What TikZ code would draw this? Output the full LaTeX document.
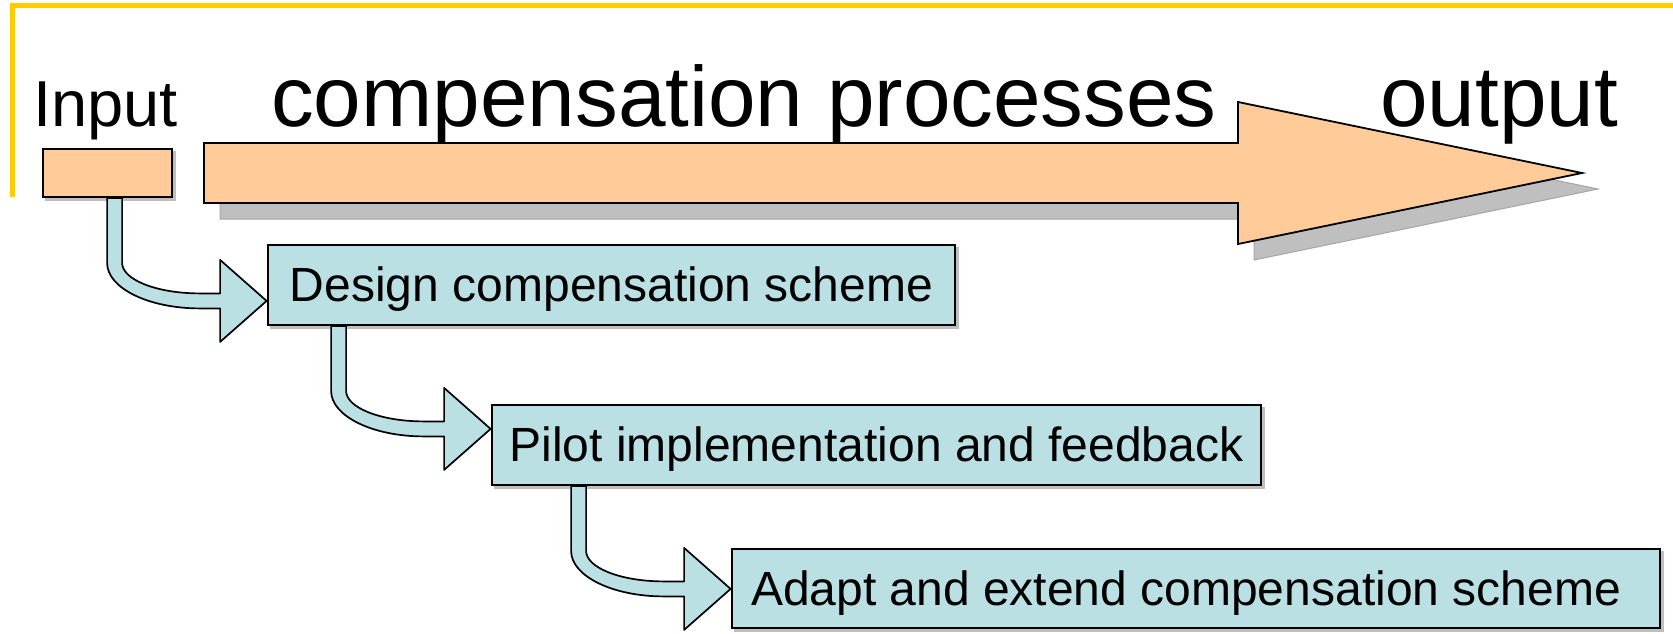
\documentclass[tikz,border=0pt]{standalone}
\usepackage{fontspec}
\setmainfont{Liberation Sans}
\usetikzlibrary{calc}
\definecolor{peach}{HTML}{FFCC99}
\definecolor{tealfill}{HTML}{BBE0E3}
\definecolor{gold}{HTML}{FFCC00}
\definecolor{shade}{HTML}{BFBFBF}
\definecolor{shadeline}{HTML}{A6A6A6}
\pgfdeclarelayer{back}
\pgfdeclarelayer{mid}
\pgfsetlayers{back,mid,main}
\newcommand\bentarrow[3]{%
  \begin{scope}[shift={($(#1.south west)+(#3,0)$)}]
    \draw[conn] (-7.5,0) -- (-7.5,65)
      .. controls (-7.5,90.1) and (33.9,110.5) .. (85,110.5)
      -- (105.5,110.5) -- (105.5,144) -- (152,103) -- (105.5,62)
      -- (105.5,95.5) -- (85,95.5)
      .. controls (42.2,95.5) and (7.5,81.8) .. (7.5,65)
      -- (7.5,0) -- cycle;
  \end{scope}}
\begin{document}
\begin{tikzpicture}[x=1pt,y=-1pt,
  stepbox/.style={draw=black, line width=1.8pt, fill=tealfill, inner sep=0pt,
    minimum height=80pt, font=\fontsize{48}{58}\selectfont,
    text height=43.4pt, text depth=10.2pt},
  inbox/.style={draw=black, line width=1.8pt, fill=peach, inner sep=0pt},
  conn/.style={draw=black, line width=1.7pt, fill=tealfill, line join=round},
  boxshadow/.style={fill=shade},
  label/.style={anchor=base west, inner sep=0pt}]
\useasboundingbox (0,0) rectangle (1673,633);

% frame
\draw[gold, line width=5pt, line join=miter] (12,197) -- (12,5) -- (1680,5);

% big arrow
\begin{pgfonlayer}{back}
\filldraw[fill=shade, draw=shadeline, line width=1pt, shift={(16,16)}]
  (204,143) -- (1238,143) -- (1238,102) -- (1582,173) -- (1238,244)
  -- (1238,203) -- (204,203) -- cycle;
\end{pgfonlayer}
\begin{pgfonlayer}{mid}
\filldraw[fill=peach, draw=black, line width=1.8pt, line join=miter]
  (204,143) -- (1238,143) -- (1238,102) -- (1582,173) -- (1238,244)
  -- (1238,203) -- (204,203) -- cycle;
\end{pgfonlayer}

% titles
\node[label, font=\fontsize{65}{78}\selectfont] (inlab) at (33,126) {Input};
\node[label, font=\fontsize{85.5}{100}\selectfont] (title) at (271,126) {compensation processes};
\node[label, font=\fontsize{85.5}{100}\selectfont] (outlab) at (1380,126) {output};

% boxes
\node[inbox, minimum width=129pt, minimum height=48pt] (input) at (107.5,173) {};
\node[stepbox, minimum width=687pt] (design) at (611.5,285) {Design compensation scheme};
\node[stepbox, minimum width=769pt] (pilot) at (876.5,445) {Pilot implementation and feedback};
\node[stepbox, minimum width=928pt, minimum height=79pt] (adapt) at (1196,588.5) {Adapt and extend compensation scheme\hspace*{20pt}};

% shadows of boxes
\begin{pgfonlayer}{back}
\foreach \n in {input,design,pilot,adapt}
  \fill[boxshadow] ($(\n.north west)+(3,3)$) rectangle ($(\n.south east)+(3,3)$);
\end{pgfonlayer}

% connectors
\begin{pgfonlayer}{mid}
\bentarrow{input}{design}{72.5}
\bentarrow{design}{pilot}{71.5}
\bentarrow{pilot}{adapt}{87.5}
\end{pgfonlayer}
\end{tikzpicture}
\end{document}
